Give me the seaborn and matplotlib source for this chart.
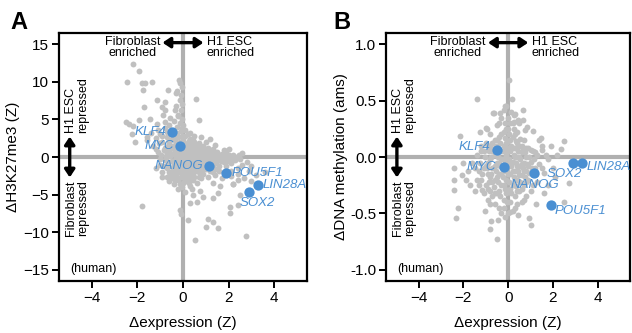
import matplotlib
matplotlib.use("Agg")
import matplotlib.pyplot as plt
import seaborn as sns
import pandas as pd

# ---- data ----
genes = ["KLF4", "MYC", "NANOG", "POU5F1", "LIN28A", "SOX2"]
expr_a = [-0.5, -0.15, 1.15, 1.9, 3.3, 2.9]
k27_a = [3.3, 1.4, -1.2, -2.1, -3.7, -4.65]
expr_b = [-0.5, -0.18, 1.15, 1.9, 3.3, 2.9]
meth_b = [0.06, -0.09, -0.14, -0.43, -0.05, -0.05]

# background genes, panel A (expression Z, H3K27me3 Z)
bg_a = [
    (-2.18, 12.4), (-1.92, 11.5), (-2.47, 10.0), (-1.81, 9.9), (-1.67, 9.8), (-1.37, 10.0),
    (-0.19, 10.2), (-0.65, 8.9), (-1.75, 8.9), (-1.15, 7.6), (-0.8, 7.3), (-0.32, 8.5),
    (0.57, 7.7), (-1.71, 6.6), (-0.9, 6.6), (-0.8, 6.2), (-0.35, 6.2), (-2.5, 4.7),
    (-2.38, 4.4), (-2.18, 4.1), (-1.92, 4.9), (-1.45, 5.1), (-1.15, 4.4), (0.72, 4.9),
    (-0.86, 5.6), (-0.57, 5.2), (-0.4, 4.8), (-0.22, 5.6), (-2.25, 3.1), (-2.1, 2.0),
    (-1.6, 2.6), (2.2, 0.27), (1.9, 0.8),
    (-1.81, -6.5), (0.31, -6.1), (0.6, -6.0), (-0.13, -7.0), (-0.1, -7.6), (0.23, -8.4),
    (0.53, -11.1), (1.11, -8.3), (1.3, -8.6), (1.55, -9.5), (1.0, -9.3), (2.76, -10.5),
    (2.06, -7.5), (2.06, -6.6), (2.43, -6.4), (2.5, -5.1), (1.55, -4.8), (1.62, -3.9),
    (1.32, -3.4), (0.73, -4.5), (0.45, -5.0), (0.9, -5.3), (1.3, -5.5), (2.2, -3.6),
    (2.4, -3.0), (2.1, -2.5),
    (-1.2, 2.5), (-1.0, 3.0), (-0.9, 2.0), (-0.8, 1.2), (-0.8, 3.8), (-0.7, 2.6),
    (-0.6, 0.8), (-0.6, 1.8), (-0.5, 2.4), (-0.5, -0.5), (-0.4, 1.0), (-0.4, 3.0),
    (-0.3, 0.2), (-0.3, 1.8), (-0.3, -1.2), (-0.2, 2.6), (-0.2, 0.8), (-0.2, -0.4),
    (-0.1, 1.6), (-0.1, 3.4), (-0.1, -1.8), (0.0, 0.4), (0.0, 2.2), (0.0, -0.8),
    (0.1, 1.2), (0.1, 2.8), (0.1, -0.2), (0.2, 0.6), (0.2, 1.8), (0.2, -1.4),
    (0.3, 0.0), (0.3, 2.4), (0.3, 1.0), (0.4, -0.6), (0.4, 1.6), (0.4, 0.4),
    (0.5, 2.0), (0.5, -0.2), (0.5, 1.0), (0.6, 0.6), (0.6, -1.0), (0.6, 1.4),
    (0.7, 0.2), (0.7, 1.8), (0.7, -0.4), (0.8, 1.0), (0.8, -1.4), (0.8, 0.5),
    (0.9, 1.4), (0.9, -0.2), (1.0, 0.8), (1.0, -0.8), (1.0, 2.0), (1.1, 0.2),
    (1.1, 1.2), (1.2, -0.4), (1.2, 0.6), (1.3, 1.0), (1.3, -1.0), (1.4, 0.2),
    (1.4, 1.6), (1.5, -0.4), (1.5, 0.6), (1.6, 0.0), (1.6, -1.2), (1.7, 0.4),
    (1.8, -0.6), (1.8, 0.9), (1.9, -0.2), (2.0, 0.3), (2.1, -0.8), (2.2, 0.2),
    (2.3, -0.4), (2.5, -0.2), (2.6, -1.0), (2.8, -0.6), (3.0, -1.2),
    (-1.0, -1.0), (-0.9, -2.0), (-0.8, -0.4), (-0.7, -1.5), (-0.7, -2.6), (-0.6, -3.2),
    (-0.5, -1.8), (-0.5, -2.8), (-0.4, -0.9), (-0.4, -3.6), (-0.3, -2.4), (-0.2, -3.0),
    (-0.2, -4.2), (-0.1, -2.6), (0.0, -1.6), (0.0, -3.4), (0.1, -4.6), (0.1, -2.2),
    (0.2, -3.0), (0.3, -2.0), (0.3, -3.8), (0.4, -1.6), (0.5, -2.6), (0.6, -3.4),
    (0.7, -2.0), (0.8, -2.8), (0.9, -2.2), (1.0, -1.6), (1.1, -2.6), (1.2, -1.8),
    (1.4, -2.4), (1.5, -1.6), (1.7, -2.8), (2.1, -1.8), (2.4, -2.2),
    (-0.25, 4.0), (-0.15, 4.5), (-0.05, 5.0), (-0.2, 5.5), (-0.1, 6.2), (-0.3, 6.8),
    (-0.05, 7.0), (-0.15, 7.6), (-0.1, 8.2), (-0.25, 8.8), (-0.05, 9.3), (-0.15, 9.8),
    (0.0, 4.2), (0.1, 3.6), (0.3, 3.2), (0.5, 2.8), (0.8, 2.6), (1.2, 2.4),
    (-0.6, 4.2), (-0.8, 4.6), (-1.1, 3.6), (-1.4, 3.2), (-1.6, 2.2), (-1.3, 1.4),
    (-1.1, 0.6), (2.0, 1.0), (2.6, 0.5), (2.4, -1.4), (2.9, -1.8), (3.2, -2.4),
    (3.6, -2.0), (2.7, -2.8), (3.0, -3.2), (2.2, -3.6),
]
# dense core, panel A
core_a = [
    (-0.95, 0.3), (-0.85, 0.9), (-0.75, -0.2), (-0.65, 1.4), (-0.55, 0.2), (-0.45, 1.5),
    (-0.45, -1.3), (-0.35, 2.2), (-0.35, 0.6), (-0.25, -0.8), (-0.25, 1.3), (-0.15, 0.0),
    (-0.15, 2.0), (-0.05, 1.0), (-0.05, -0.3), (-0.05, 2.8), (0.05, 0.7), (0.05, 1.9),
    (0.05, -1.2), (0.15, 0.2), (0.15, 1.5), (0.15, -0.7), (0.25, 1.1), (0.25, 2.1),
    (0.25, -0.3), (0.35, 0.5), (0.35, 1.4), (0.35, -1.0), (0.45, 0.1), (0.45, 1.2),
    (0.45, 2.3), (0.55, 0.7), (0.55, -0.5), (0.55, 1.6), (0.65, 0.0), (0.65, 1.0),
    (0.75, 0.7), (0.75, -0.9), (0.75, 1.3), (0.85, 0.2), (0.85, -0.5), (0.95, 0.5),
    (0.95, 1.0), (1.05, 0.0), (1.05, -0.4), (1.15, 0.9), (1.15, -0.9), (1.25, 0.2),
    (1.35, 0.6), (1.35, -0.3), (1.45, -0.8), (1.55, 0.2), (1.65, -0.5), (1.75, 0.0),
    (1.85, 0.3), (1.95, -0.5), (2.05, -0.1), (2.35, 0.0), (-0.85, -1.2), (-0.65, -0.8),
    (-0.55, -2.2), (-0.35, -1.8), (-0.25, -1.6), (-0.15, -2.0), (-0.05, -1.0), (0.05, -2.8),
    (0.15, -1.7), (0.25, -2.5), (0.35, -1.4), (0.45, -2.2), (0.55, -1.2), (0.65, -1.8),
    (0.85, -1.7), (0.95, -1.2), (1.15, -1.4), (1.35, -1.6), (-0.15, -3.6), (0.25, -3.4),
    (0.45, -3.0), (-0.35, -3.0), (-0.05, -4.0), (1.3, -2.0), (1.6, -1.8), (1.9, -1.2),
    (0.7, -2.6), (0.4, -4.2), (-0.6, 2.2), (-0.4, 2.6), (-0.25, 3.2), (-0.05, 3.8),
    (0.2, 3.1), (-0.7, 3.3), (-0.9, 2.8), (-1.05, 1.8), (-1.2, 1.0), (-1.0, -0.3),
    (-1.2, -1.5), (-0.9, -2.6), (-0.6, -2.0),
    (0.15, 0.9), (0.25, 0.4), (0.35, 1.8), (0.45, 0.8), (0.55, 0.3), (0.65, 1.3),
    (0.75, 0.4), (0.85, 0.9), (0.95, 0.2), (1.05, 0.6), (1.15, 0.4), (1.25, 0.8),
    (1.25, -0.6), (1.45, 0.4), (1.55, -0.2), (1.65, 0.3), (1.75, -0.3), (1.95, 0.1),
    (2.15, -0.3), (2.45, 0.3), (-0.25, 0.5), (-0.35, 1.0), (-0.45, 0.4), (-0.55, 1.2),
    (-0.65, 0.3), (-0.75, 0.8), (-0.15, -0.6), (-0.05, 0.4), (0.05, -0.4), (0.05, 0.2),
    (0.15, -1.0), (0.25, -1.8), (0.35, -0.6), (0.45, -1.4), (0.55, -1.9), (0.65, -0.6),
    (0.75, -1.3), (0.95, -0.7), (1.05, -1.1), (-0.35, -0.4), (-0.45, -2.4), (-0.25, -2.8),
    (-0.05, -2.2), (0.15, -3.2), (0.35, -2.6), (-0.65, -1.2), (-0.75, 0.2),
]

# background genes, panel B (expression Z, DNA methylation ams)
bg_b = [
    (-1.4, 0.51), (0.04, 0.68), (-0.1, 0.45), (0.19, 0.51), (0.67, 0.42), (-2.16, 0.19),
    (-0.98, 0.26), (-0.62, 0.39), (0.44, 0.33), (0.85, 0.27), (0.28, 0.37), (-0.66, 0.39),
    (-0.37, 0.39), (-0.12, 0.45), (0.26, 0.31), (0.66, 0.33), (1.1, 0.23), (0.76, 0.24),
    (1.47, 0.17), (2.5, 0.14), (2.35, 0.07), (1.5, 0.1), (-1.25, 0.22), (-0.95, 0.25),
    (-0.51, 0.28),
    (-2.42, -0.29), (-2.23, -0.45), (-2.35, -0.54), (-1.03, -0.48), (-0.81, -0.64),
    (-0.48, -0.73), (-0.75, -0.57), (-0.44, -0.56), (-0.15, -0.53), (0.1, -0.49),
    (0.44, -0.51), (0.95, -0.54), (1.03, -0.6), (1.25, -0.42), (1.59, -0.32), (2.5, -0.4),
    (2.72, -0.23), (-2.42, -0.2), (-2.06, -0.16), (-1.18, -0.29),
    (-1.6, -0.05), (-1.4, 0.02), (-1.3, -0.12), (-1.2, -0.2), (-1.1, 0.05), (-1.0, -0.08),
    (-1.0, -0.25), (-0.9, 0.1), (-0.9, -0.15), (-0.8, -0.02), (-0.8, -0.3), (-0.7, 0.12),
    (-0.7, -0.1), (-0.6, -0.2), (-0.6, 0.02), (-0.5, 0.15), (-0.5, -0.05), (-0.5, -0.32),
    (-0.4, 0.06), (-0.4, -0.15), (-0.3, 0.2), (-0.3, -0.02), (-0.3, -0.25), (-0.2, 0.1),
    (-0.2, -0.12), (-0.2, -0.38), (-0.1, 0.25), (-0.1, 0.02), (-0.1, -0.2), (0.0, 0.14),
    (0.0, -0.06), (0.0, -0.3), (0.1, 0.3), (0.1, 0.05), (0.1, -0.15), (0.1, -0.4),
    (0.2, 0.18), (0.2, -0.04), (0.2, -0.25), (0.3, 0.08), (0.3, -0.12), (0.3, -0.35),
    (0.4, 0.22), (0.4, 0.0), (0.4, -0.2), (0.5, 0.1), (0.5, -0.08), (0.5, -0.3),
    (0.6, 0.04), (0.6, -0.16), (0.7, 0.15), (0.7, -0.05), (0.7, -0.25), (0.8, 0.0),
    (0.8, -0.12), (0.9, 0.08), (0.9, -0.2), (1.0, -0.04), (1.0, -0.3), (1.1, 0.05),
    (1.2, -0.1), (1.3, 0.02), (1.3, -0.22), (1.4, -0.06), (1.5, 0.06), (1.6, -0.14),
    (1.8, -0.02), (2.0, -0.1), (2.2, 0.02), (-1.2, 0.1), (-0.6, -0.42), (-0.3, -0.5),
    (0.2, -0.48), (0.6, -0.4), (-0.9, -0.38), (-1.5, -0.3), (-1.8, -0.12), (-2.0, -0.05),
    (-2.4, -0.1), (-0.4, 0.3), (0.0, 0.35), (0.3, 0.38), (-0.2, 0.42),
]
# dense core, panel B
core_b = [
    (-1.25, -0.05), (-1.15, -0.15), (-1.05, 0.0), (-0.95, -0.1), (-0.85, 0.05), (-0.85, -0.22),
    (-0.75, -0.15), (-0.75, 0.0), (-0.65, 0.07), (-0.65, -0.27), (-0.55, -0.12), (-0.55, 0.1),
    (-0.45, -0.22), (-0.45, 0.0), (-0.35, 0.12), (-0.35, -0.08), (-0.35, -0.35), (-0.25, 0.05),
    (-0.25, -0.18), (-0.15, 0.17), (-0.15, -0.05), (-0.15, -0.28), (-0.05, 0.08), (-0.05, -0.12),
    (-0.05, -0.4), (0.05, 0.2), (0.05, -0.02), (0.05, -0.22), (0.15, 0.1), (0.15, -0.08),
    (0.15, -0.32), (0.25, 0.25), (0.25, 0.02), (0.25, -0.18), (0.35, 0.14), (0.35, -0.05),
    (0.35, -0.26), (0.45, 0.05), (0.45, -0.12), (0.55, 0.16), (0.55, -0.02), (0.55, -0.22),
    (0.65, 0.08), (0.65, -0.1), (0.75, 0.04), (0.75, -0.18), (0.85, -0.06), (0.95, 0.0),
    (0.95, -0.14), (1.05, -0.1), (1.15, -0.02), (1.25, -0.15), (-1.1, -0.32), (-0.7, -0.35),
    (-0.4, -0.45), (0.0, -0.5), (0.4, -0.42), (0.8, -0.35), (-0.15, 0.3), (0.15, 0.4),
    (-0.3, 0.35), (0.5, 0.3), (-0.8, 0.2), (-1.4, -0.2), (-1.7, -0.25), (1.8, -0.25),
    (1.4, 0.15),
    (-1.2, 0.05), (-1.1, -0.1), (-1.0, 0.12), (-0.9, -0.05), (-0.9, -0.28), (-0.8, 0.1),
    (-0.8, -0.18), (-0.7, -0.22), (-0.7, 0.05), (-0.6, -0.08), (-0.6, 0.15), (-0.6, -0.32),
    (-0.5, 0.02), (-0.5, -0.18), (-0.4, -0.05), (-0.4, -0.3), (-0.4, 0.18), (-0.3, 0.05),
    (-0.3, -0.15), (-0.2, 0.22), (-0.2, -0.02), (-0.2, -0.25), (-0.1, 0.12), (-0.1, -0.08),
    (-0.1, -0.32), (0.0, 0.05), (0.0, -0.15), (0.0, 0.25), (0.1, 0.15), (0.1, -0.05),
    (0.1, -0.28), (0.2, 0.08), (0.2, -0.12), (0.2, 0.3), (0.3, 0.0), (0.3, -0.2),
    (0.3, 0.2), (0.4, -0.08), (0.4, 0.12), (0.4, -0.3), (0.5, 0.0), (0.5, -0.16),
    (0.6, 0.1), (0.6, -0.06), (0.6, -0.28), (0.7, -0.12), (0.8, 0.08), (0.8, -0.22),
    (0.9, -0.08), (1.0, 0.06), (1.1, -0.15), (1.2, 0.04), (1.5, -0.1), (1.7, 0.02),
    (-1.3, -0.25), (-1.5, -0.1), (-1.9, -0.2), (-0.2, -0.45), (0.3, -0.45), (0.7, -0.38),
    (1.1, -0.25), (-0.8, -0.42), (2.1, -0.18), (1.9, 0.1),
]

x_ticks = [-4, -2, 0, 2, 4]
y_ticks_a = [-15, -10, -5, 0, 5, 10, 15]
y_ticks_b = [-1.0, -0.5, 0.0, 0.5, 1.0]

# label offsets in points (dx, dy, ha)
offs_a = {"KLF4": (-4, 0, "right"), "MYC": (-4, 0, "right"), "NANOG": (-4, 0, "right"),
          "POU5F1": (4, 0, "left"), "LIN28A": (3, 0, "left"), "SOX2": (6, -8, "center")}
offs_b = {"KLF4": (-5, 2, "right"), "MYC": (-6, 0, "right"), "NANOG": (1, -9, "center"),
          "POU5F1": (3, -4, "left"), "LIN28A": (3, -3, "left"), "SOX2": (-6, -8, "center")}

sns.set_style("white")
plt.rcParams["font.family"] = ["Liberation Sans", "DejaVu Sans"]
plt.rcParams["text.color"] = "black"
plt.rcParams["axes.labelcolor"] = "black"
plt.rcParams["xtick.color"] = "black"
plt.rcParams["ytick.color"] = "black"

GREY = "#c0c0c0"
LINE = "#b0b0b0"
BLUE = "#4a8fd2"
ARROW = "<|-|>,head_length=0.45,head_width=0.3"

fig = plt.figure(figsize=(6.32, 3.33), dpi=100)
ax_a = fig.add_axes([0.093, 0.156, 0.393, 0.745])
ax_b = fig.add_axes([0.611, 0.156, 0.386, 0.745])


def draw_panel(ax, bg, core, gx, gy, offs, ylim, yticks, ylabel, yfmt):
    ax.axhline(0, color=LINE, lw=3, zorder=1)
    ax.axvline(0, color=LINE, lw=3, zorder=1)
    df = pd.DataFrame(bg + core, columns=["x", "y"])
    sns.scatterplot(data=df, x="x", y="y", ax=ax, color=GREY, s=18, linewidth=0, zorder=2)
    hl = pd.DataFrame({"x": gx, "y": gy, "gene": genes})
    sns.scatterplot(data=hl, x="x", y="y", ax=ax, color=BLUE, s=55, linewidth=0, zorder=3)
    for _, r in hl.iterrows():
        dx, dy, ha = offs[r["gene"]]
        ax.annotate(r["gene"], (r["x"], r["y"]), xytext=(dx, dy), textcoords="offset points",
                    ha=ha, va="center", color=BLUE, fontsize=9.5, style="italic", zorder=4)

    ax.set_xlim(-5.45, 5.45)
    ax.set_ylim(*ylim)
    ax.set_xticks(x_ticks)
    ax.set_yticks(yticks)
    if yfmt:
        ax.set_yticklabels([yfmt % v if v != 0 else "0.0" for v in yticks])
    ax.tick_params(axis="both", direction="out", length=5, width=1.4, labelsize=11, pad=2,
                   left=True, bottom=True)
    for sp in ax.spines.values():
        sp.set_linewidth(1.6)
        sp.set_color("black")
    ax.set_xlabel("\u0394expression (Z)", fontsize=11, labelpad=8)
    ax.set_ylabel(ylabel, fontsize=11, labelpad=2)

    # axis annotations
    top = ylim[1]
    span = ylim[1] - ylim[0]
    ya = top - 0.039 * span
    ax.annotate("", xy=(0.9, ya), xytext=(-0.9, ya),
                arrowprops=dict(arrowstyle=ARROW, lw=2.4, color="black", shrinkA=0, shrinkB=0))
    ax.text(-1.0, top - 0.012 * span, "Fibroblast\nenriched", ha="right", va="top",
            fontsize=9, multialignment="center", linespacing=0.95)
    ax.text(1.05, top - 0.012 * span, "H1 ESC\nenriched", ha="left", va="top",
            fontsize=9, multialignment="left", linespacing=0.95)
    yv = 0.165 * span / 2
    ax.annotate("", xy=(-4.97, yv), xytext=(-4.97, -yv),
                arrowprops=dict(arrowstyle=ARROW, lw=2.4, color="black", shrinkA=0, shrinkB=0))
    ax.text(-4.65, yv + 0.015 * span, "H1 ESC\nrepressed", rotation=90, ha="center", va="bottom",
            fontsize=9, multialignment="left", linespacing=0.95)
    ax.text(-4.65, -yv - 0.01 * span, "Fibroblast\nrepressed", rotation=90, ha="center", va="top",
            fontsize=9, multialignment="left", linespacing=0.95)
    ax.text(-4.95, ylim[0] + 0.05 * span, "(human)", ha="left", va="center", fontsize=9)


draw_panel(ax_a, bg_a, core_a, expr_a, k27_a, offs_a, (-16.5, 16.5), y_ticks_a,
           "\u0394H3K27me3 (Z)", None)
draw_panel(ax_b, bg_b, core_b, expr_b, meth_b, offs_b, (-1.1, 1.1), y_ticks_b,
           "\u0394DNA methylation (ams)", "%.1f")

fig.text(0.017, 0.912, "A", fontsize=17, fontweight="bold")
fig.text(0.527, 0.912, "B", fontsize=17, fontweight="bold")

fig.savefig("out.png", dpi=100)
